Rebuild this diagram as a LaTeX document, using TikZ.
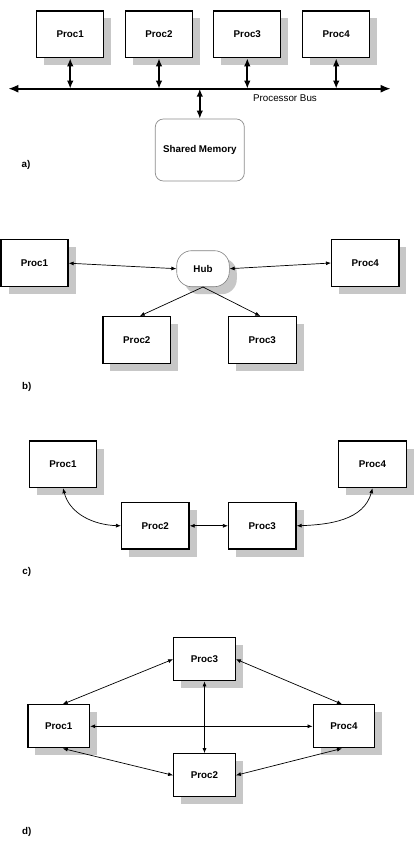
\documentclass[tikz,border=0pt]{standalone}
\usepackage{fontspec}
\setmainfont{Liberation Sans}
\usetikzlibrary{arrows.meta,shadows,calc}
\definecolor{shadowc}{gray}{0.78}
\tikzset{
  pbox/.style={draw, line width=1.3pt, fill=white, inner sep=0pt,
    font=\bfseries\fontsize{9.8}{11}\selectfont,
    drop shadow={shadow xshift=7.5pt, shadow yshift=-7.5pt, fill=shadowc, opacity=1}},
  thinarrow/.style={line width=0.7pt, {Latex[length=5pt,width=4pt]}-{Latex[length=5pt,width=4pt]}},
  onearrow/.style={line width=0.7pt, -{Latex[length=5pt,width=4pt]}},
  thickarrow/.style={line width=1.8pt, {Latex[length=8pt,width=6.5pt]}-{Latex[length=8pt,width=6.5pt]}},
  busarrow/.style={line width=1.8pt, {Latex[length=10pt,width=8pt]}-{Latex[length=10pt,width=8pt]}},
  lbl/.style={font=\bfseries\fontsize{9.8}{11}\selectfont},
}
\begin{document}
\begin{tikzpicture}[x=1pt,y=-1pt]
\useasboundingbox[fill=white] (0,0) rectangle (414,845);
% ---------- a)
\begin{scope}[every node/.style={pbox, minimum width=67pt, minimum height=46.7pt}]
\node (pa1) at (70.2,34.3) {Proc1};
\node (pa2) at (159,34.3) {Proc2};
\node (pa3) at (247.3,34.3) {Proc3};
\node (pa4) at (336.2,34.3) {Proc4};
\end{scope}
\coordinate (busL) at (8.3,88.7);
\coordinate (busR) at (390.7,88.7);
\draw[busarrow] (busL) -- (busR);
\node[draw=black!45, line width=0.7pt, rounded corners=8pt, minimum width=89pt, minimum height=62pt,
  inner sep=0pt, font=\bfseries\fontsize{9.8}{11}\selectfont] (mem) at (199.8,150) {Shared Memory};
\foreach \n in {pa1,pa2,pa3,pa4} \draw[thickarrow] (\n.south) -- (\n.south |- busL);
\draw[thickarrow] (mem.north) -- (mem.north |- busL);
\node[font=\fontsize{9.8}{11}\selectfont, inner sep=0pt] (busl) at (285,98.3) {Processor Bus};
\node[lbl] (la) at (26,165) {a)};
% ---------- b)
\node[pbox, minimum width=67pt, minimum height=47pt] (pb1) at (34.5,263.2) {Proc1};
\node[pbox, draw=black!50, line width=0.6pt, minimum width=52.6pt, minimum height=36pt, rounded corners=15pt] (hub) at (203,268.7) {Hub};
\node[pbox, minimum width=67.3pt, minimum height=47.4pt] (pb4) at (365.3,263) {Proc4};
\node[pbox, minimum width=67.7pt, minimum height=46.6pt] (pb2) at (136.8,340) {Proc2};
\node[pbox, minimum width=67.7pt, minimum height=46.6pt] (pb3) at (262.3,340) {Proc3};
\draw[thinarrow] (pb1.east) -- (hub.west);
\draw[thinarrow] (pb4.west) -- (hub.east);
\draw[onearrow] (hub.south) -- ($(pb2.north)+(3,0)$);
\draw[onearrow] (hub.south) -- ($(pb3.north)+(-2,0)$);
\node[lbl] (lb) at (26.7,386.7) {b)};
% ---------- c)
\begin{scope}[every node/.style={pbox, minimum width=67.4pt, minimum height=46.5pt}]
\node (pc1) at (63,464.3) {Proc1};
\node (pc4) at (372.5,464.3) {Proc4};
\node (pc2) at (155.3,525.8) {Proc2};
\node (pc3) at (262.3,525.8) {Proc3};
\end{scope}
\draw[thinarrow] (pc1.south) to[out=-75,in=178] (pc2.west);
\draw[thinarrow] (pc2.east) -- (pc3.west);
\draw[thinarrow] (pc3.east) to[out=2,in=-105] (pc4.south);
\node[lbl] (lc) at (26.7,571.7) {c)};
% ---------- d)
\begin{scope}[every node/.style={pbox, minimum width=61.5pt, minimum height=43pt}]
\node (pd3) at (204.5,659.2) {Proc3};
\node (pd1) at (58.7,726.3) {Proc1};
\node (pd4) at (344,726.3) {Proc4};
\node (pd2) at (204.5,775.3) {Proc2};
\end{scope}
\draw[thinarrow] ($(pd1.north)+(4,0)$) -- (pd3.west);
\draw[thinarrow] (pd3.east) -- ($(pd4.north)+(-2,0)$);
\draw[thinarrow] (pd1.east) -- (pd4.west);
\draw[thinarrow] (pd3.south) -- (pd2.north);
\draw[thinarrow] ($(pd1.south)+(4,0)$) -- (pd2.west);
\draw[thinarrow] (pd2.east) -- ($(pd4.south)+(-2,0)$);
\node[lbl] (ld) at (26.7,831.7) {d)};
\end{tikzpicture}
\end{document}
